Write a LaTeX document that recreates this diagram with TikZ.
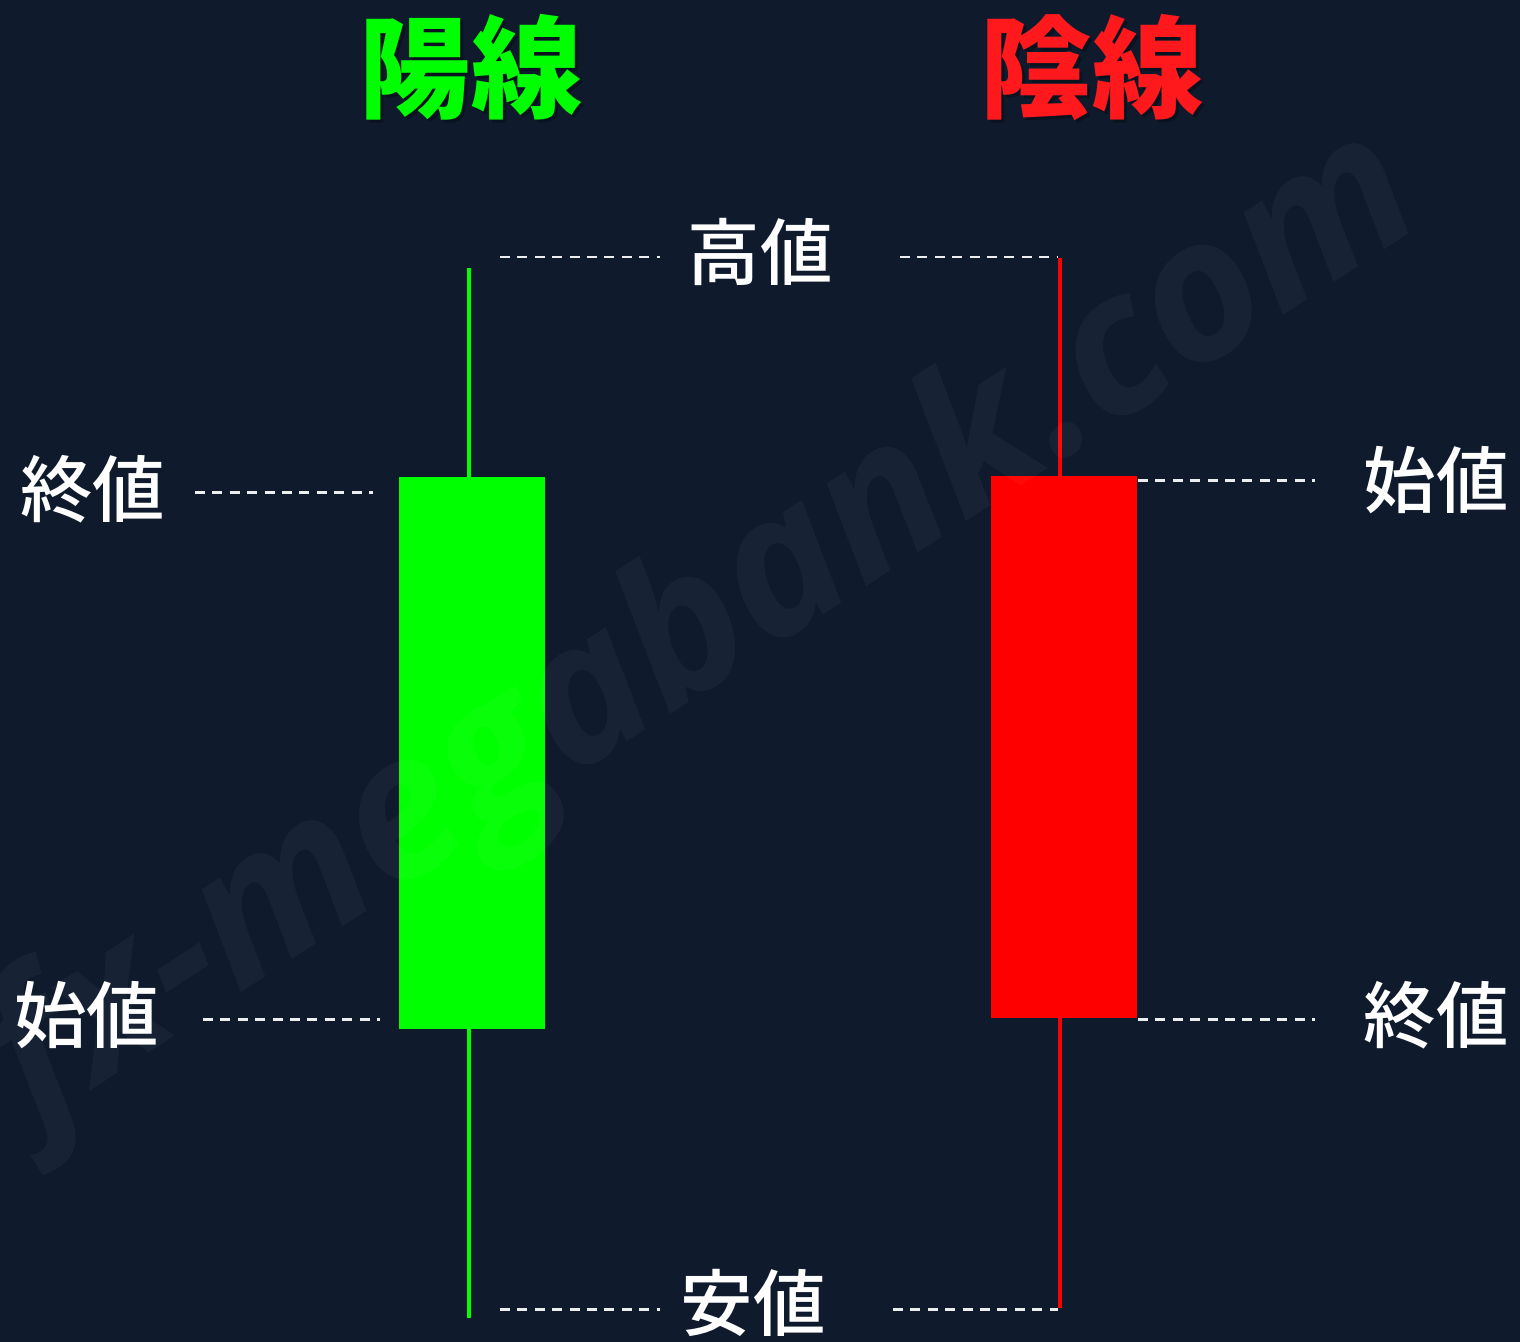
\documentclass[tikz,border=0pt]{standalone}
\usepackage{fontspec}
\newfontfamily\jpfont{Noto Sans CJK JP}
\newfontfamily\jpmedium{Noto Sans CJK JP Medium}
\newfontfamily\markfont{Open Sans}
\definecolor{navybg}{RGB}{15,27,45}
\definecolor{bullgreen}{RGB}{0,255,0}
\definecolor{bearred}{RGB}{255,0,0}
\definecolor{headred}{RGB}{255,24,28}
\tikzset{
  headline/.style={font=\jpfont\bfseries\fontsize{31.6}{32}\selectfont,inner sep=0pt},
  pricetag/.style={text=white,font=\jpmedium\fontsize{20.6}{21}\selectfont,inner sep=0pt},
  guide/.style={color=white!92!navybg,line width=0.85pt,dash pattern=on 2.85pt off 2.1pt},
  wick/.style={line width=1.15pt},
}

\begin{document}
\begin{tikzpicture}[x=0.01cm,y=-0.01cm]
	\useasboundingbox (0,0) rectangle (1520,1342);
	\fill[navybg] (0,0) rectangle (1520,1342);
	% titles
	\node[headline,text=black,opacity=0.3] (yoShadow) at (474,70) {陽線};
	\node[headline,text=bullgreen] (yoTitle) at (471,67) {陽線};
	\node[headline,text=black,opacity=0.3] (inShadow) at (1095,70) {陰線};
	\node[headline,text=headred] (inTitle) at (1092,67) {陰線};
	% green candle
	\coordinate (upHigh) at (469,268);
	\coordinate (upLow) at (469,1318);
	\coordinate (upTop) at (399,477);
	\coordinate (upBot) at (545,1029);
	\draw[wick,bullgreen] (upHigh) -- (upLow);
	\fill[bullgreen] (upTop) rectangle (upBot);
	% red candle
	\coordinate (dnHigh) at (1060,258);
	\coordinate (dnLow) at (1060,1308);
	\coordinate (dnTop) at (991,476);
	\coordinate (dnBot) at (1137,1018);
	\draw[wick,bearred] (dnHigh) -- (dnLow);
	\fill[bearred] (dnTop) rectangle (dnBot);
	% labels
	\node[pricetag] (hiLabel) at (760,252) {高値};
	\node[pricetag] (loLabel) at (753,1303) {安値};
	\node[pricetag] (upCloseLabel) at (93,489) {終値};
	\node[pricetag] (upOpenLabel) at (87,1015) {始値};
	\node[pricetag] (dnOpenLabel) at (1436,480) {始値};
	\node[pricetag] (dnCloseLabel) at (1436,1015) {終値};
	% guide lines
	\coordinate (hiA) at (500,257);  \coordinate (hiB) at (660,257);
	\coordinate (hiC) at (900,257);  \coordinate (hiD) at (1058,257);
	\coordinate (loA) at (500,1309); \coordinate (loB) at (660,1309);
	\coordinate (loC) at (893,1309); \coordinate (loD) at (1058,1309);
	\coordinate (ucA) at (195,492);  \coordinate (ucB) at (373,492);
	\coordinate (uoA) at (203,1019); \coordinate (uoB) at (380,1019);
	\coordinate (doA) at (1138,480); \coordinate (doB) at (1315,480);
	\coordinate (dcA) at (1138,1019); \coordinate (dcB) at (1315,1019);
	\draw[guide] (hiA) -- (hiB);
	\draw[guide] (hiC) -- (hiD);
	\draw[guide] (loA) -- (loB);
	\draw[guide] (loC) -- (loD);
	\draw[guide] (ucA) -- (ucB);
	\draw[guide] (uoA) -- (uoB);
	\draw[guide] (doA) -- (doB);
	\draw[guide] (dcA) -- (dcB);
	% watermark
	\node[rotate=33,text=white,opacity=0.035,inner sep=0pt,
	      font=\markfont\bfseries\itshape\fontsize{56}{56}\selectfont] (brand) at (705,630) {fx-megabank.com};
\end{tikzpicture}
\end{document}
